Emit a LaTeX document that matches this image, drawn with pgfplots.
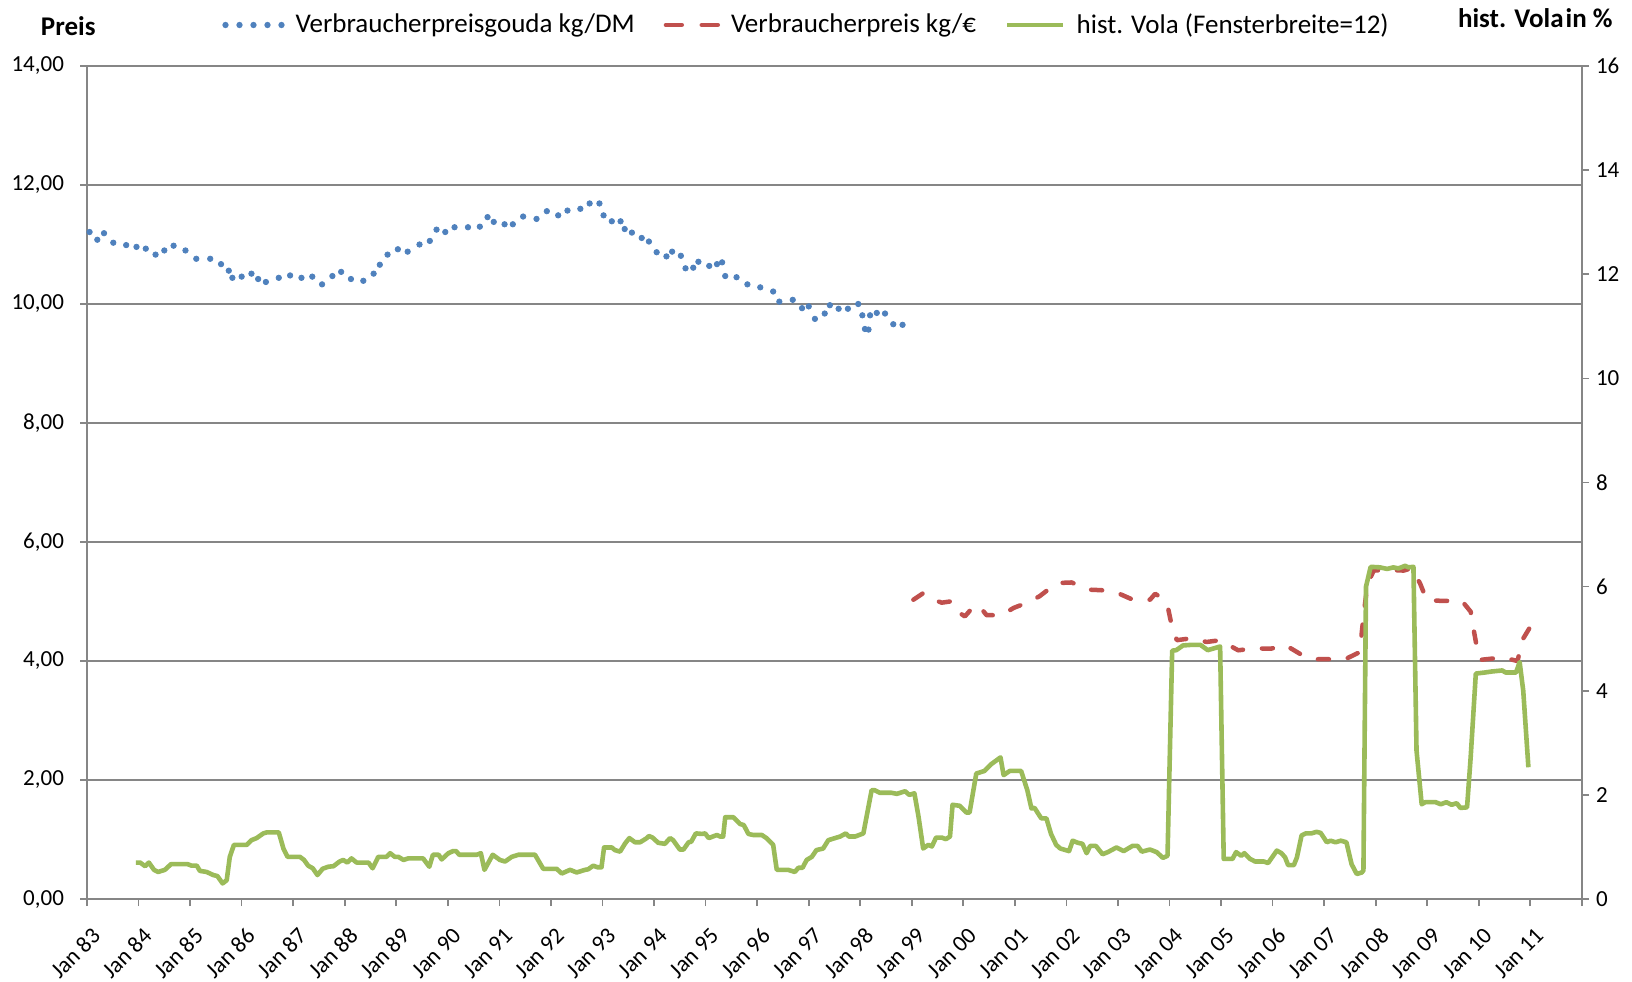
\documentclass[border=0pt]{standalone}
\usepackage{pgfplots}
\pgfplotsset{compat=1.18}
\usepackage{fontspec}
\setmainfont{Carlito}
\definecolor{cblue}{RGB}{79,129,189}
\definecolor{cred}{RGB}{192,80,77}
\definecolor{cgreen}{RGB}{155,187,89}
\definecolor{axgray}{RGB}{134,134,134}
\newcommand{\tickfont}{\fontsize{11.5}{13}\selectfont}
\newcommand{\legfont}{\fontsize{13.5}{15}\selectfont}
\begin{document}
\begin{tikzpicture}
\useasboundingbox (-43.5pt,-41pt) rectangle (772.5pt,449.5pt);
\pgfplotsset{
  common/.style={
    at={(0pt,0pt)}, anchor=south west,
    scale only axis, width=747.5pt, height=416.5pt,
    xmin=1983, xmax=2012, ymin=0,
    enlargelimits=false,
    axis line style={color=axgray, line width=0.85pt},
    tick style={color=axgray, line width=0.85pt},
    major tick length=3.5pt,
    tick align=outside,
    /pgf/number format/assume math mode=true,
    ticklabel style={font=\tickfont, text=black},
  }
}
\begin{axis}[common,
  ymax=14,
  axis x line*=bottom, axis y line*=left,
  xtick={1983,...,2012},
  xticklabels={Jan 83,Jan 84,Jan 85,Jan 86,Jan 87,Jan 88,Jan 89,Jan 90,Jan 91,Jan 92,Jan 93,Jan 94,Jan 95,Jan 96,Jan 97,Jan 98,Jan 99,Jan 00,Jan 01,Jan 02,Jan 03,Jan 04,Jan 05,Jan 06,Jan 07,Jan 08,Jan 09,Jan 10,Jan 11,{}},
  xticklabel style={rotate=45, anchor=east, xshift=-2.5pt, yshift=-12.5pt},
  ytick={0,2,...,14},
  yticklabel style={xshift=-4.5pt, /pgf/number format/.cd, fixed, fixed zerofill, precision=2, use comma},
  ymajorgrids,
  grid style={color=axgray, line width=0.85pt},
]
\addplot[cblue, only marks, mark=*, mark size=1.35pt, mark options={draw=none, fill=cblue}] coordinates {
(1983.05,11.21)(1983.20,11.08)(1983.33,11.19)(1983.51,11.03)(1983.76,10.99)(1983.96,10.96)
(1984.14,10.93)(1984.33,10.83)(1984.50,10.90)(1984.68,10.98)(1984.91,10.90)(1985.12,10.76)
(1985.39,10.76)(1985.60,10.67)(1985.75,10.56)(1985.82,10.44)(1986.00,10.46)(1986.19,10.51)
(1986.32,10.42)(1986.47,10.37)(1986.72,10.44)(1986.94,10.48)(1987.16,10.44)(1987.37,10.46)
(1987.56,10.33)(1987.76,10.47)(1987.93,10.54)(1988.12,10.42)(1988.36,10.39)(1988.56,10.51)
(1988.68,10.66)(1988.83,10.83)(1989.03,10.92)(1989.22,10.88)(1989.45,11.00)(1989.65,11.06)
(1989.78,11.25)(1989.95,11.21)(1990.13,11.29)(1990.39,11.29)(1990.62,11.30)(1990.77,11.46)
(1990.89,11.38)(1991.10,11.34)(1991.26,11.34)(1991.46,11.47)(1991.72,11.43)(1991.92,11.56)
(1992.14,11.49)(1992.32,11.57)(1992.57,11.60)(1992.75,11.69)(1992.94,11.69)(1993.02,11.49)
(1993.18,11.39)(1993.35,11.39)(1993.43,11.26)(1993.57,11.20)(1993.76,11.11)(1993.90,11.05)
(1994.05,10.87)(1994.24,10.80)(1994.35,10.88)(1994.52,10.81)(1994.61,10.60)(1994.76,10.61)
(1994.86,10.71)(1995.07,10.64)(1995.22,10.67)(1995.32,10.70)(1995.38,10.47)(1995.60,10.45)
(1995.81,10.33)(1996.06,10.28)(1996.31,10.21)(1996.43,10.04)(1996.69,10.07)(1996.87,9.93)
(1997.00,9.96)(1997.12,9.75)(1997.31,9.84)(1997.41,9.98)(1997.58,9.92)(1997.76,9.92)
(1997.96,10.00)(1998.04,9.81)(1998.09,9.58)(1998.16,9.57)(1998.19,9.81)(1998.32,9.85)
(1998.48,9.84)(1998.64,9.66)(1998.82,9.65)
};
\addplot[cred, line width=2.25pt, line cap=round, line join=round, dash pattern=on 5.5pt off 9.5pt] coordinates {
(1999.03,5.03)(1999.22,5.14)(1999.29,5.08)(1999.58,4.98)(1999.74,5.00)(1999.77,4.89)
(2000.03,4.75)(2000.22,4.94)(2000.32,4.91)(2000.45,4.77)(2000.74,4.77)(2000.97,4.89)
(2001.29,5.00)(2001.48,5.09)(2001.81,5.31)(2002.10,5.32)(2002.42,5.20)(2002.68,5.19)
(2003.00,5.14)(2003.26,5.04)(2003.62,5.03)(2003.72,5.13)(2003.88,5.04)(2003.97,4.89)
(2004.04,4.60)(2004.14,4.35)(2004.40,4.38)(2004.72,4.32)(2004.98,4.35)(2005.33,4.18)
(2005.62,4.21)(2005.98,4.21)(2006.24,4.27)(2006.53,4.12)(2006.79,4.03)(2007.17,4.03)
(2007.43,4.04)(2007.69,4.15)(2007.76,4.75)(2007.84,5.30)(2007.96,5.52)(2008.22,5.53)
(2008.54,5.52)(2008.70,5.56)(2008.86,5.30)(2008.99,5.02)(2009.32,5.01)(2009.67,5.01)
(2009.84,4.83)(2009.90,4.52)(2009.97,4.18)(2010.04,4.02)(2010.46,4.06)(2010.75,4.00)
(2010.84,4.35)(2011.00,4.58)
};
\end{axis}
\begin{axis}[common,
  ymax=16,
  axis x line=none, axis y line*=right,
  ytick={0,2,...,16},
  legend columns=3,
  legend style={at={(67.5pt,437pt)}, anchor=west, draw=none, fill=none,
    inner sep=0pt, font=\legfont, nodes={inner sep=0pt},
    /tikz/every odd column/.append style={column sep=5.5pt},
    /tikz/every even column/.append style={column sep=14.5pt}},
  legend cell align=left,
]
\addlegendimage{legend image code/.code={\foreach \i in {0,...,4}{\fill[cblue] (\i*7pt+1.35pt,0pt) circle[radius=1.35pt];}}}
\addlegendentry{Verbraucherpreisgouda kg/DM}
\addlegendimage{legend image code/.code={\draw[cred, line width=2.25pt, line cap=round] (1.1pt,0pt)--(9pt,0pt) (19pt,0pt)--(27pt,0pt);}}
\addlegendentry{Verbraucherpreis kg/€}
\addplot[cgreen, line width=2.3pt, line join=round, legend image code/.code={\draw[cgreen, line width=2.3pt] (0pt,0pt)--(28pt,0pt);}] coordinates {
(1983.95,0.70)(1984.03,0.70)(1984.13,0.63)(1984.20,0.70)(1984.30,0.56)(1984.38,0.52)
(1984.51,0.56)(1984.63,0.67)(1984.95,0.67)(1985.03,0.64)(1985.13,0.64)(1985.19,0.54)
(1985.32,0.52)(1985.45,0.46)(1985.53,0.44)(1985.63,0.30)(1985.71,0.36)(1985.77,0.81)
(1985.85,1.04)(1986.10,1.04)(1986.19,1.13)(1986.29,1.17)(1986.42,1.26)(1986.49,1.28)
(1986.72,1.28)(1986.81,0.97)(1986.89,0.81)(1987.13,0.81)(1987.21,0.75)(1987.29,0.64)
(1987.38,0.59)(1987.47,0.46)(1987.57,0.58)(1987.68,0.62)(1987.78,0.63)(1987.90,0.72)
(1987.97,0.75)(1988.05,0.70)(1988.13,0.78)(1988.23,0.70)(1988.46,0.70)(1988.54,0.59)
(1988.65,0.81)(1988.81,0.81)(1988.88,0.88)(1988.97,0.81)(1989.04,0.81)(1989.14,0.75)
(1989.23,0.78)(1989.52,0.78)(1989.64,0.62)(1989.71,0.85)(1989.82,0.85)(1989.88,0.76)
(1990.01,0.88)(1990.10,0.92)(1990.16,0.92)(1990.22,0.85)(1990.56,0.85)(1990.64,0.88)
(1990.71,0.56)(1990.87,0.85)(1991.01,0.75)(1991.11,0.72)(1991.24,0.81)(1991.37,0.85)
(1991.69,0.85)(1991.85,0.58)(1992.11,0.58)(1992.21,0.49)(1992.37,0.56)(1992.50,0.51)
(1992.66,0.56)(1992.72,0.57)(1992.82,0.64)(1992.90,0.61)(1992.98,0.61)(1993.03,0.99)
(1993.18,0.99)(1993.24,0.94)(1993.34,0.91)(1993.44,1.07)(1993.52,1.17)(1993.63,1.09)
(1993.73,1.09)(1993.86,1.17)(1993.90,1.21)(1993.97,1.18)(1994.08,1.08)(1994.21,1.06)
(1994.31,1.17)(1994.37,1.13)(1994.50,0.95)(1994.57,0.95)(1994.67,1.09)(1994.72,1.10)
(1994.81,1.26)(1994.93,1.25)(1994.99,1.26)(1995.06,1.17)(1995.22,1.23)(1995.28,1.20)
(1995.34,1.20)(1995.38,1.57)(1995.54,1.57)(1995.67,1.44)(1995.74,1.42)(1995.83,1.25)
(1995.92,1.23)(1996.09,1.23)(1996.18,1.17)(1996.31,1.04)(1996.38,0.56)(1996.60,0.56)
(1996.73,0.52)(1996.80,0.60)(1996.88,0.60)(1996.96,0.75)(1997.06,0.81)(1997.15,0.94)
(1997.28,0.97)(1997.38,1.13)(1997.51,1.17)(1997.61,1.20)(1997.72,1.26)(1997.78,1.20)
(1997.90,1.20)(1998.06,1.26)(1998.22,2.09)(1998.28,2.09)(1998.38,2.04)(1998.61,2.04)
(1998.71,2.02)(1998.87,2.07)(1998.95,2.00)(1999.05,2.03)(1999.13,1.58)(1999.22,0.97)
(1999.32,1.04)(1999.39,1.01)(1999.47,1.18)(1999.58,1.18)(1999.66,1.15)(1999.74,1.20)
(1999.79,1.81)(1999.93,1.79)(2000.06,1.66)(2000.12,1.66)(2000.25,2.41)(2000.41,2.46)
(2000.54,2.59)(2000.72,2.72)(2000.78,2.38)(2000.90,2.46)(2001.12,2.46)(2001.24,2.09)
(2001.32,1.74)(2001.38,1.75)(2001.51,1.55)(2001.61,1.55)(2001.70,1.25)(2001.80,1.04)
(2001.88,0.97)(2002.05,0.92)(2002.12,1.12)(2002.22,1.08)(2002.31,1.06)(2002.39,0.88)
(2002.46,1.02)(2002.57,1.02)(2002.70,0.86)(2002.80,0.90)(2002.97,0.99)(2003.11,0.92)
(2003.28,1.02)(2003.38,1.02)(2003.46,0.91)(2003.62,0.95)(2003.75,0.90)(2003.87,0.79)
(2003.96,0.83)(2004.05,4.77)(2004.13,4.78)(2004.26,4.87)(2004.40,4.88)(2004.60,4.88)
(2004.74,4.78)(2004.88,4.82)(2004.98,4.85)(2005.05,0.77)(2005.22,0.77)(2005.29,0.90)
(2005.39,0.83)(2005.45,0.88)(2005.56,0.77)(2005.66,0.72)(2005.83,0.72)(2005.91,0.69)
(2006.08,0.93)(2006.17,0.88)(2006.24,0.80)(2006.30,0.65)(2006.41,0.65)(2006.47,0.80)
(2006.56,1.22)(2006.64,1.26)(2006.75,1.26)(2006.85,1.29)(2006.93,1.27)(2007.05,1.09)
(2007.12,1.12)(2007.22,1.09)(2007.32,1.12)(2007.43,1.09)(2007.53,0.67)(2007.63,0.48)
(2007.73,0.51)(2007.76,0.55)(2007.81,6.00)(2007.90,6.38)(2008.08,6.37)(2008.22,6.34)
(2008.34,6.37)(2008.44,6.35)(2008.57,6.40)(2008.63,6.37)(2008.73,6.38)(2008.79,2.85)
(2008.89,1.82)(2008.96,1.86)(2009.16,1.86)(2009.26,1.82)(2009.37,1.86)(2009.47,1.81)
(2009.57,1.84)(2009.64,1.75)(2009.77,1.76)(2009.84,2.72)(2009.94,4.33)(2010.11,4.35)
(2010.25,4.37)(2010.45,4.39)(2010.52,4.35)(2010.72,4.35)(2010.79,4.55)(2010.86,4.00)
(2010.96,2.53)
};
\addlegendentry{hist. Vola (Fensterbreite=12)}
\end{axis}
\node[anchor=west, font=\bfseries\legfont, inner sep=0pt] at (-23.2pt,436.2pt) {Preis};
\node[anchor=east, font=\bfseries\legfont, inner sep=0pt] at (763pt,440.3pt) {hist. Vola\hspace{0.08em}in \%};
\end{tikzpicture}
\end{document}
